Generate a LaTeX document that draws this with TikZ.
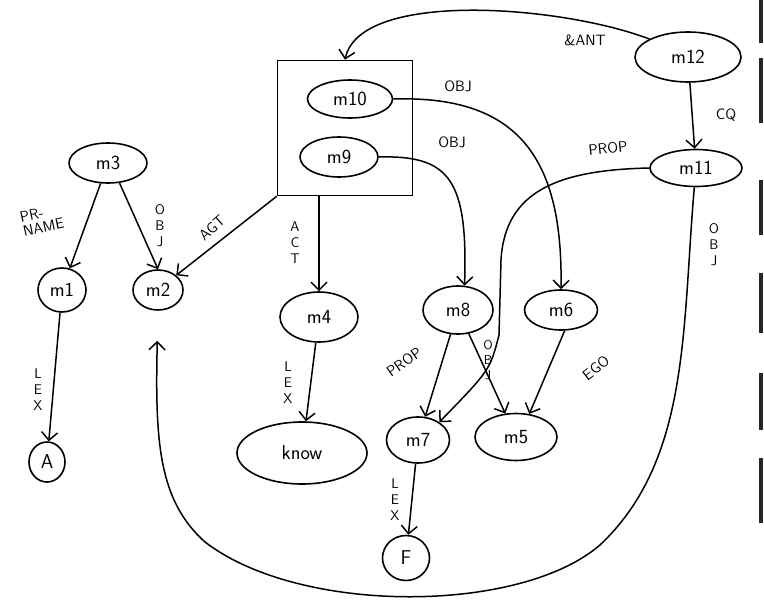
\documentclass[tikz,border=0pt]{standalone}
\usetikzlibrary{shapes.geometric,arrows.meta,calc}
\begin{document}
\begin{tikzpicture}[x=1pt,y=-1pt,
  nd/.style={draw, ellipse, line width=1.6pt, inner sep=0pt, font=\sffamily\fontsize{20}{22}\selectfont},
  arr/.style={line width=1.5pt, -{Straight Barb[length=8pt,width=16pt,line width=1.5pt]}},
  lbl/.style={font=\sffamily\fontsize{15}{15}\selectfont, inner sep=1pt},
  stk/.style={lbl, align=center, font=\sffamily\fontsize{14}{16}\selectfont},
  scanbar/.style={line width=4pt, black!85}]
\useasboundingbox (0,0) rectangle (764,608);
% scan artifacts at right edge
\draw[scanbar] (761,0) -- (761,43);
\draw[scanbar] (761,58) -- (761,123);
\draw[scanbar] (761,180) -- (761,235);
\draw[scanbar] (761,273) -- (761,333);
\draw[scanbar] (761,373) -- (761,430);
\draw[scanbar] (761,458) -- (761,523);
% nodes
\node[nd, minimum width=78pt, minimum height=40pt] (m3) at (108,163) {m3};
\node[nd, minimum width=48pt, minimum height=44pt] (m1) at (62,290) {m1};
\node[nd, minimum width=50pt, minimum height=40pt] (m2) at (158,290) {m2};
\node[nd, minimum width=36pt, minimum height=40pt] (A) at (47,462) {A};
\node[draw, line width=1.6pt, minimum width=135pt, minimum height=135pt, inner sep=0pt] (box) at (345,128) {};
\node[nd, minimum width=85pt, minimum height=38pt] (m10) at (350,99) {m10};
\node[nd, minimum width=78pt, minimum height=40pt] (m9) at (339,157) {m9};
\node[nd, minimum width=106pt, minimum height=50pt] (m12) at (688,57) {m12};
\node[nd, minimum width=92pt, minimum height=37pt] (m11) at (696,168) {m11};
\node[nd, minimum width=78pt, minimum height=50pt] (m4) at (319,317) {m4};
\node[nd, minimum width=130pt, minimum height=62pt] (know) at (302,453) {know};
\node[nd, minimum width=70pt, minimum height=48pt] (m8) at (458,310) {m8};
\node[nd, minimum width=73pt, minimum height=40pt] (m6) at (561,310) {m6};
\node[nd, minimum width=63pt, minimum height=46pt] (m7) at (418,440) {m7};
\node[nd, minimum width=82pt, minimum height=47pt] (m5) at (516,437) {m5};
\node[nd, minimum width=47pt, minimum height=45pt] (F) at (406,558) {F};
% edges
\draw[arr] (m3) -- (m1);
\draw[arr] (m3.-60) -- (m2.north);
\draw[arr] (box.south west) -- (m2.north east);
\draw[arr] (box.south -| m4) -- (m4.north);
\draw[arr] (m4) -- (know);
\draw[arr] (m1) -- (A);
\draw[arr] (m10.east) .. controls (520,95) and (563,160) .. (m6.north);
\draw[arr] (m9.east) .. controls (450,155) and (468,180) .. (m8.75);
\draw[arr] (m12.155) .. controls (560,5) and (360,-10) .. (box.north);
\draw[arr] (m12) -- (m11);
\draw[arr] (m11.west) .. controls (560,170) and (505,190) .. (501,260) -- (499,335) .. controls (490,370) .. (m7.40);
\draw[arr] (m8) -- (m7);
\draw[arr] (m8) -- (m5);
\draw[arr] (m6.-80) -- (m5.60);
\draw[arr] (m7) -- (F);
\draw[arr, shorten >=30pt] (m11.-95) .. controls (682,330) and (690,460) .. (600,545)
  .. controls (520,614) and (300,615) .. (205,542)
  .. controls (158,500) and (155,440) .. (m2.south);
% labels
\node[lbl, align=left, rotate=12] (lprname) at (42,220) {PR-\\NAME};
\node[stk] (lobj1) at (160,226) {O\\B\\J};
\node[lbl, rotate=42] (lagt) at (212,228) {AGT};
\node[stk] (lact) at (295,243) {A\\C\\T};
\node[stk] (llex1) at (288,383) {L\\E\\X};
\node[stk] (llex2) at (38,390) {L\\E\\X};
\node[lbl] (lobj2) at (458,86) {OBJ};
\node[lbl] (lobj3) at (452,142) {OBJ};
\node[lbl] (lant) at (585,40) {\&ANT};
\node[lbl] (lcq) at (726,115) {CQ};
\node[lbl, rotate=6] (lprop1) at (608,148) {PROP};
\node[lbl, rotate=35] (lprop2) at (404,362) {PROP};
\node[stk, font=\sffamily\fontsize{13}{15}\selectfont] (lobj4) at (488,360) {O\\B\\J};
\node[lbl, rotate=38] (lego) at (596,368) {EGO};
\node[stk] (llex3) at (395,500) {L\\E\\X};
\node[stk] (lobj5) at (714,245) {O\\B\\J};
\end{tikzpicture}
\end{document}
